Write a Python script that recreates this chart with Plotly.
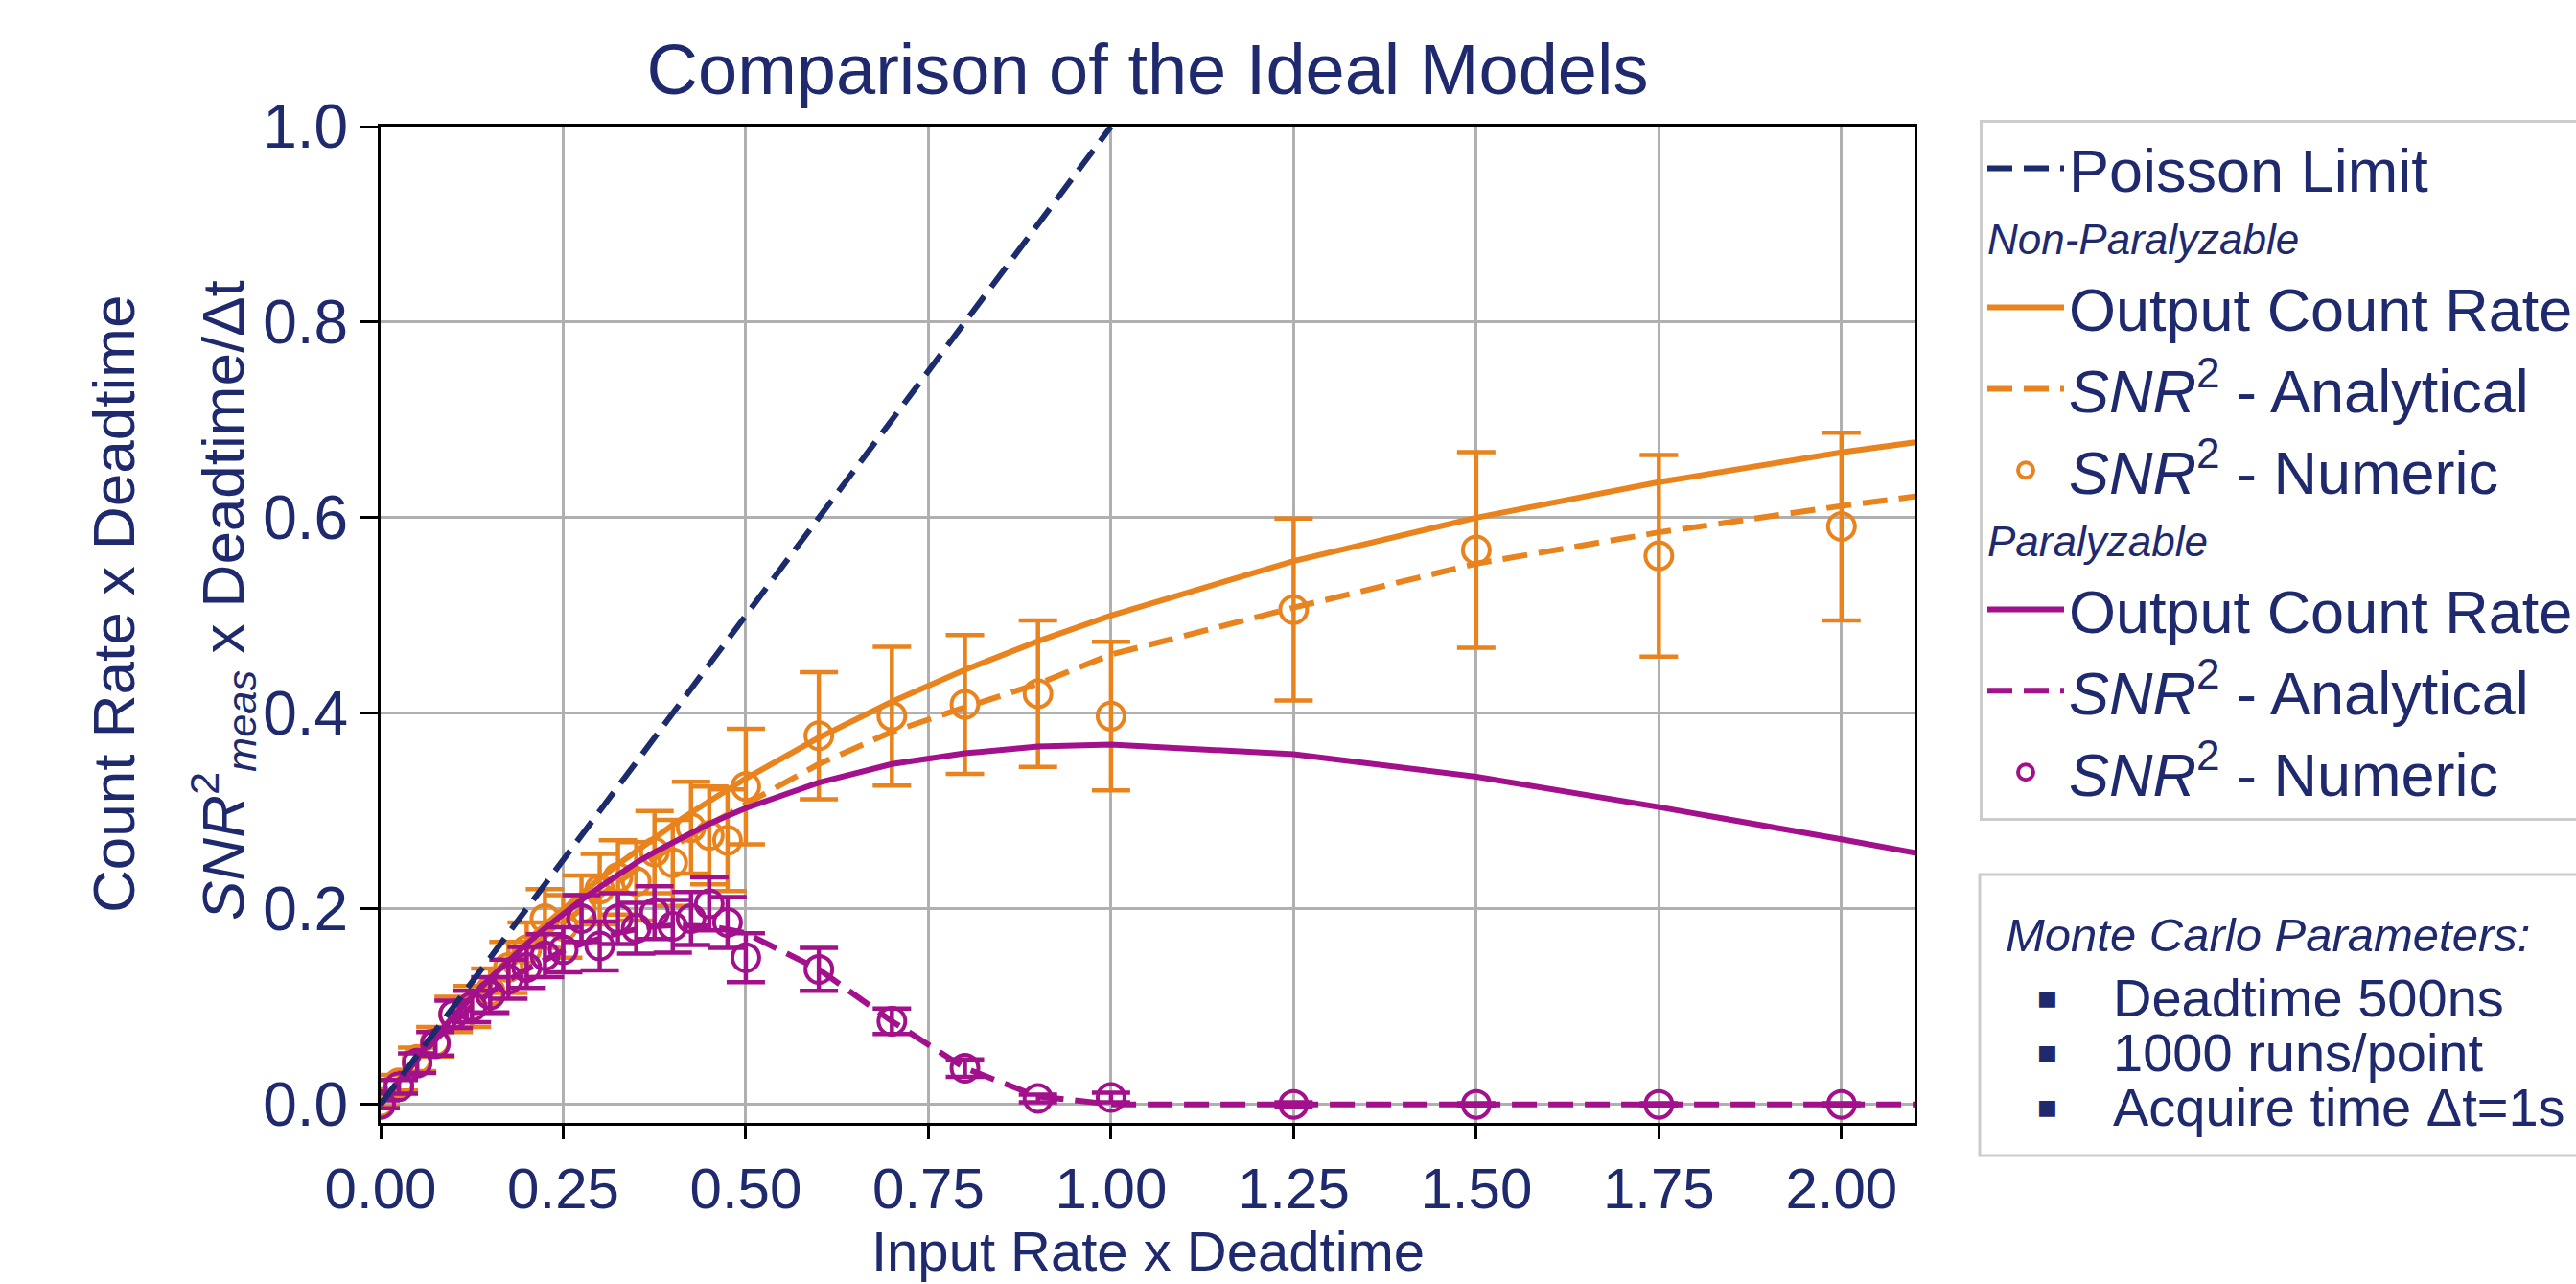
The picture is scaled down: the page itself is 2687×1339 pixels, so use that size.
import plotly.graph_objects as go

# ---------------- data ----------------
x_num = [0.0, 0.025, 0.05, 0.075, 0.1, 0.125, 0.15, 0.175, 0.2, 0.225, 0.25, 0.275, 0.3, 0.325,
         0.35, 0.375, 0.4, 0.425, 0.45, 0.475, 0.5, 0.6, 0.7, 0.8, 0.9, 1.0, 1.25, 1.5, 1.75, 2.0]
x_line = x_num + [2.25]

poisson_x = [0.0, 1.0]
poisson_y = [0.0, 1.0]

np_rate = [0.0, 0.0244, 0.0476, 0.0698, 0.0909, 0.111, 0.1304, 0.149, 0.1667, 0.1837, 0.2, 0.2157,
           0.2308, 0.2453, 0.2593, 0.2727, 0.2857, 0.2982, 0.3103, 0.322, 0.3333, 0.375, 0.4118,
           0.4444, 0.4737, 0.5, 0.5556, 0.6, 0.6364, 0.6667, 0.6923]
np_snr = [0.0, 0.024, 0.046, 0.067, 0.087, 0.105, 0.123, 0.14, 0.156, 0.172, 0.186, 0.2, 0.214,
          0.227, 0.24, 0.252, 0.264, 0.275, 0.286, 0.297, 0.307, 0.348, 0.381, 0.406, 0.43, 0.46,
          0.508, 0.553, 0.585, 0.612, 0.636]
np_num = [0.002, 0.022, 0.046, 0.064, 0.092, 0.1, 0.116, 0.14, 0.158, 0.19, 0.182, 0.2, 0.22, 0.232,
          0.228, 0.258, 0.247, 0.283, 0.275, 0.27, 0.325, 0.377, 0.397, 0.409, 0.42, 0.397, 0.506,
          0.567, 0.561, 0.591]
np_err = [0.004, 0.008, 0.012, 0.015, 0.018, 0.021, 0.023, 0.026, 0.028, 0.03, 0.032, 0.034, 0.036,
          0.038, 0.04, 0.042, 0.044, 0.047, 0.05, 0.052, 0.059, 0.065, 0.071, 0.071, 0.075, 0.076,
          0.093, 0.1, 0.103, 0.096]

pa_rate = [0.0, 0.0244, 0.0476, 0.0696, 0.0905, 0.110, 0.129, 0.147, 0.164, 0.18, 0.195, 0.209,
           0.222, 0.235, 0.247, 0.258, 0.268, 0.278, 0.287, 0.295, 0.303, 0.329, 0.348, 0.359,
           0.366, 0.368, 0.358, 0.335, 0.304, 0.271, 0.237]
pa_snr = [0.0, 0.024, 0.046, 0.066, 0.084, 0.1, 0.114, 0.127, 0.138, 0.148, 0.157, 0.164, 0.17,
          0.175, 0.179, 0.182, 0.183, 0.183, 0.182, 0.179, 0.175, 0.138, 0.085, 0.037, 0.008, 0.0,
          0.0, 0.0, 0.0, 0.0, 0.0]
pa_num = [0.0, 0.018, 0.042, 0.062, 0.092, 0.1, 0.112, 0.128, 0.14, 0.152, 0.158, 0.19, 0.162, 0.19,
          0.18, 0.196, 0.182, 0.19, 0.205, 0.186, 0.15, 0.138, 0.085, 0.037, 0.006, 0.007, 0.0,
          0.0, 0.0, 0.0]
pa_err = [0.004, 0.007, 0.01, 0.012, 0.014, 0.016, 0.018, 0.02, 0.021, 0.022, 0.023, 0.024, 0.025,
          0.026, 0.026, 0.027, 0.027, 0.027, 0.027, 0.026, 0.025, 0.022, 0.013, 0.009, 0.004,
          0.005, 0.002, 0.001, 0.001, 0.001]

mc_lines = ["Deadtime 500ns", "1000 runs/point", "Acquire time Δt=1s"]

# ---------------- styles ----------------
ORANGE = "#E8831E"
PURPLE = "#A3108C"
NAVY = "#1B2B6B"
TEXT = "#1F2A6E"
FONT = "Liberation Sans, Arial, sans-serif"
DASH = "26px,12px"
LW = 6

W, H = 2687, 1339
L, R, T, B = 397, 1997, 132, 1171


def px(xp):
    return (xp - L) / (R - L)


def py(yp):
    return (B - yp) / (B - T)


grp_font = dict(family=FONT, size=44, color=TEXT, style="italic")

fig = go.Figure()

fig.add_trace(go.Scatter(x=x_line, y=np_rate, mode="lines", name="Output Count Rate",
                         line=dict(color=ORANGE, width=LW), legendgroup="np", legendrank=2,
                         legendgrouptitle=dict(text="Non-Paralyzable", font=grp_font)))
fig.add_trace(go.Scatter(x=x_line, y=np_snr, mode="lines", name="<i>SNR</i><sup>2</sup> - Analytical",
                         line=dict(color=ORANGE, width=LW, dash=DASH), legendgroup="np", legendrank=3))
fig.add_trace(go.Scatter(x=x_num, y=np_num, mode="markers", name="<i>SNR</i><sup>2</sup> - Numeric",
                         marker=dict(symbol="circle-open", size=28, color=ORANGE, line=dict(width=4)),
                         error_y=dict(type="data", array=np_err, color=ORANGE, thickness=4.5, width=20),
                         legendgroup="np", legendrank=4))
fig.add_trace(go.Scatter(x=x_line, y=pa_rate, mode="lines", name="Output Count Rate",
                         line=dict(color=PURPLE, width=LW), legendgroup="pa", legendrank=5,
                         legendgrouptitle=dict(text="Paralyzable", font=grp_font)))
fig.add_trace(go.Scatter(x=x_line, y=pa_snr, mode="lines", name="<i>SNR</i><sup>2</sup> - Analytical",
                         line=dict(color=PURPLE, width=LW, dash=DASH), legendgroup="pa", legendrank=6))
fig.add_trace(go.Scatter(x=x_num, y=pa_num, mode="markers", name="<i>SNR</i><sup>2</sup> - Numeric",
                         marker=dict(symbol="circle-open", size=28, color=PURPLE, line=dict(width=4)),
                         error_y=dict(type="data", array=pa_err, color=PURPLE, thickness=4.5, width=20),
                         legendgroup="pa", legendrank=7))
fig.add_trace(go.Scatter(x=poisson_x, y=poisson_y, mode="lines", name="Poisson Limit",
                         line=dict(color=NAVY, width=LW, dash=DASH), legendgroup="po", legendrank=1))

axis_common = dict(
    showline=True, linewidth=3, linecolor="black", mirror=True,
    showgrid=True, gridcolor="#b0b0b0", gridwidth=3, zeroline=False,
    ticks="outside", tickwidth=3, tickcolor="black",
)
fig.update_xaxes(range=[0, 2.1], tickmode="linear", tick0=0, dtick=0.25, tickformat=".2f",
                 ticklen=14, tickfont=dict(family=FONT, size=60, color=TEXT), **axis_common)
fig.update_yaxes(range=[-0.019, 1.0], tickmode="linear", tick0=0, dtick=0.2, tickformat=".1f",
                 ticklen=18, tickfont=dict(family=FONT, size=64, color=TEXT), **axis_common)

annotations = [
    dict(text="Input Rate x Deadtime", x=0.5, y=py(1339), xref="paper", yref="paper",
         xanchor="center", yanchor="bottom", showarrow=False,
         font=dict(family=FONT, size=58, color=TEXT)),
    dict(text="Count Rate x Deadtime", x=px(118), y=py(630), xref="paper", yref="paper",
         xanchor="center", yanchor="middle", showarrow=False, textangle=-90,
         font=dict(family=FONT, size=62, color=TEXT)),
    dict(text="<i>SNR</i><sup>2</sup><sub><i>meas</i></sub> x Deadtime/Δt", x=px(232), y=py(626),
         xref="paper", yref="paper", xanchor="center", yanchor="middle", showarrow=False,
         textangle=-90, font=dict(family=FONT, size=62, color=TEXT)),
    dict(text="<i>Monte Carlo Parameters:</i>", x=px(2090), y=py(975), xref="paper", yref="paper",
         xanchor="left", yanchor="middle", showarrow=False,
         font=dict(family=FONT, size=49, color=TEXT)),
]
for i, line in enumerate(mc_lines):
    yy = py(1040 + 57 * i)
    annotations.append(dict(text="■", x=px(2135), y=yy, xref="paper", yref="paper",
                            xanchor="center", yanchor="middle", showarrow=False,
                            font=dict(family="DejaVu Sans", size=22, color=TEXT)))
    annotations.append(dict(text=line, x=px(2202), y=yy, xref="paper", yref="paper",
                            xanchor="left", yanchor="middle", showarrow=False,
                            font=dict(family=FONT, size=56, color=TEXT)))

fig.update_layout(
    width=W, height=H,
    margin=dict(l=L, r=W - R, t=T, b=H - B, autoexpand=False),
    paper_bgcolor="white", plot_bgcolor="white",
    title=dict(text="Comparison of the Ideal Models", x=0.5, xref="paper", xanchor="center",
               y=1 - 72 / H, yanchor="middle", font=dict(family=FONT, size=74, color=TEXT)),
    showlegend=True,
    legend=dict(x=px(2065), y=py(125), xanchor="left", yanchor="top",
                bgcolor="white", bordercolor="#cccccc", borderwidth=3,
                font=dict(family=FONT, size=63, color=TEXT), maxheight=1300,
                tracegroupgap=0, itemwidth=80, itemsizing="trace", traceorder="grouped"),
    annotations=annotations,
    shapes=[dict(type="rect", xref="paper", yref="paper", x0=px(2065), x1=px(2720),
                 y0=py(1205), y1=py(912), line=dict(color="#cccccc", width=3),
                 fillcolor="white", layer="below")],
)

fig.write_html("out.html")
